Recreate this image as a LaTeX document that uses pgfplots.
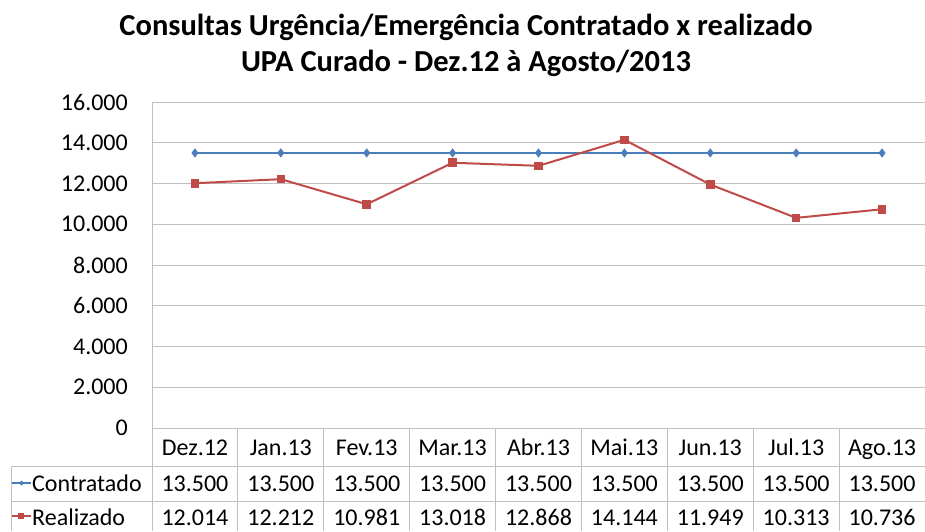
\documentclass[border=0pt]{standalone}
\usepackage{pgfplots}
\pgfplotsset{compat=1.18}
\usepackage{fontspec}
\setmainfont{Carlito}
\definecolor{cblue}{HTML}{4A7EBB}
\definecolor{cred}{HTML}{BE4B48}
\definecolor{gridc}{HTML}{C0C0C0}
\newcommand{\tf}{\fontsize{24}{26}\selectfont}
\begin{document}
\begin{tikzpicture}
\begin{axis}[
  at={(0,0)}, anchor=south west,
  scale only axis, width=773pt, height=326pt,
  xmin=-0.5, xmax=8.5, ymin=0, ymax=16000,
  ytick={0,2000,...,16000}, xtick=\empty,
  scaled y ticks=false,
  ymajorgrids, grid style={gridc, line width=0.9pt},
  axis x line*=bottom, axis y line*=left,
  axis line style={gridc, line width=0.9pt, -},
  major tick length=0pt,
  yticklabel style={font=\tf, inner sep=0pt, xshift=-24pt, text=black,
    /pgf/number format/.cd, fixed, 1000 sep={.}, assume math mode=true},
  clip=false,
]
\addplot[cblue, line width=2pt, mark=diamond*, mark size=3pt, mark options={fill=cblue, draw=cblue}]
  coordinates {(0,13500) (1,13500) (2,13500) (3,13500) (4,13500) (5,13500) (6,13500) (7,13500) (8,13500)};
\addplot[cred, line width=2pt, mark=square*, mark size=3.3pt, mark options={fill=cred, draw=cred}]
  coordinates {(0,12014) (1,12212) (2,10981) (3,13018) (4,12868) (5,14144) (6,11949) (7,10313) (8,10736)};
\end{axis}
% table grid
\def\cw{85.89}
\draw[gridc, line width=0.9pt] (-141pt,-38pt) -- (773pt,-38pt);
\draw[gridc, line width=0.9pt] (-141pt,-73pt) -- (773pt,-73pt);
\draw[gridc, line width=0.9pt] (-141pt,-38pt) -- (-141pt,-103pt);
\foreach \i in {0,...,9} {
  \draw[gridc, line width=0.9pt] (\i*\cw pt,0pt) -- (\i*\cw pt,-103pt);
}
\foreach \lab [count=\i from 0] in {Dez.12,Jan.13,Fev.13,Mar.13,Abr.13,Mai.13,Jun.13,Jul.13,Ago.13} {
  \node[font=\tf, inner sep=0pt, anchor=base] at ({(\i+0.5)*\cw pt},-27pt) {\lab};
}
\foreach \lab [count=\i from 0] in {13.500,13.500,13.500,13.500,13.500,13.500,13.500,13.500,13.500} {
  \node[font=\tf, inner sep=0pt, anchor=base] at ({(\i+0.5)*\cw pt},-63pt) {\lab};
}
\foreach \lab [count=\i from 0] in {12.014,12.212,10.981,13.018,12.868,14.144,11.949,10.313,10.736} {
  \node[font=\tf, inner sep=0pt, anchor=base] at ({(\i+0.5)*\cw pt},-97pt) {\lab};
}
% legend keys
\draw[cblue, line width=1.5pt] (-140pt,-55pt) -- (-121pt,-55pt);
\fill[cblue] (-130.5pt,-55pt) +(0,2.5pt) -- +(2.5pt,0) -- +(0,-2.5pt) -- +(-2.5pt,0) -- cycle;
\node[font=\tf, inner sep=0pt, anchor=base west] at (-120pt,-63pt) {Contratado};
\draw[cred, line width=1.5pt] (-140pt,-88pt) -- (-121pt,-88pt);
\fill[cred] (-133.5pt,-91pt) rectangle (-127.5pt,-85pt);
\node[font=\tf, inner sep=0pt, anchor=base west] at (-120pt,-97pt) {Realizado};
% title
\node[font=\fontsize{30.5}{33}\selectfont\bfseries, inner sep=0pt] at (314pt,401pt) {Consultas Urgência/Emergência Contratado x realizado};
\node[font=\fontsize{30.5}{33}\selectfont\bfseries, inner sep=0pt] at (314pt,365pt) {UPA Curado - Dez.12 à Agosto/2013};
\pgfresetboundingbox
\path (-152pt,-103pt) rectangle (773pt,428pt);
\end{tikzpicture}
\end{document}
